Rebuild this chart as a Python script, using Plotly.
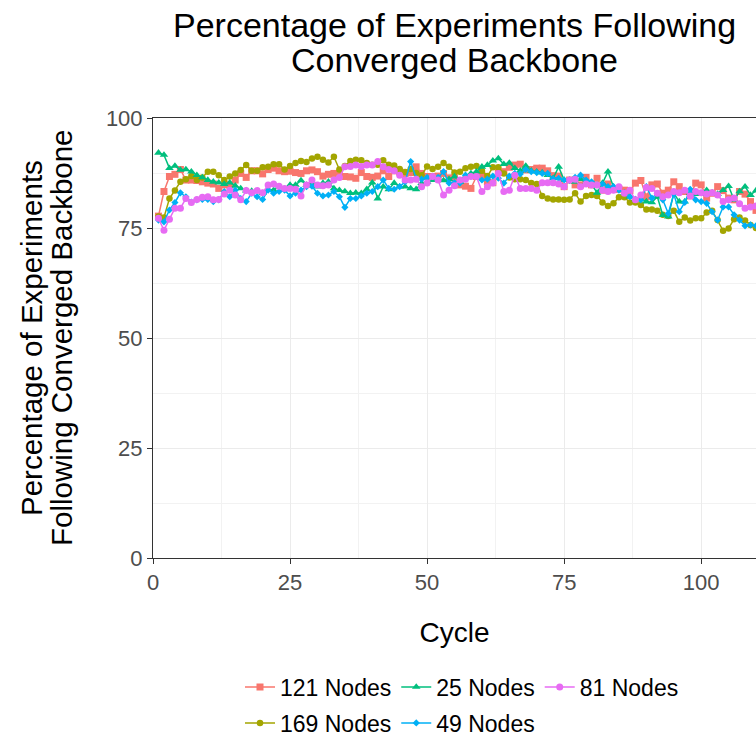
import plotly.graph_objects as go

# Cycle index shared by all series
cycles = list(range(1, 111))

# Percentage of experiments following the converged backbone, per network size
nodes_121 = [
    77.7, 83.3, 86.7, 87.2, 88.3, 85.9, 85.9, 85.8, 85.5, 85.2,
    85.0, 84.0, 84.8, 84.8, 85.9, 87.4, 86.5, 88.0, 88.0, 87.3,
    88.3, 88.6, 88.0, 87.8, 87.9, 87.6, 87.4, 88.0, 88.2, 87.8,
    86.8, 87.2, 87.4, 87.0, 86.7, 86.6, 86.3, 87.6, 86.7, 86.5,
    86.8, 88.0, 86.7, 88.0, 87.8, 87.4, 87.6, 88.9, 87.4, 86.7,
    86.7, 86.8, 87.4, 86.4, 86.4, 84.8, 84.5, 84.0, 86.7, 87.0,
    85.5, 85.3, 87.6, 87.8, 88.8, 89.3, 89.5, 88.2, 88.3, 88.6,
    88.6, 88.0, 86.9, 86.8, 84.4, 85.9, 84.8, 84.8, 86.5, 84.8,
    86.3, 83.6, 85.0, 83.8, 83.8, 83.6, 83.5, 85.2, 85.8, 82.1,
    84.8, 85.0, 82.9, 83.6, 85.5, 84.4, 83.3, 82.3, 85.2, 84.8,
    81.8, 82.9, 84.4, 83.5, 81.8, 81.4, 83.3, 82.7, 81.0, 79.0,
]
nodes_25 = [
    92.1, 91.6, 88.6, 89.1, 88.2, 88.3, 87.8, 87.0, 86.5, 85.9,
    85.5, 85.3, 85.0, 85.3, 84.6, 84.0, 83.5, 83.4, 83.3, 82.9,
    83.8, 83.6, 84.4, 83.8, 84.8, 84.8, 85.8, 84.8, 85.2, 84.4,
    85.2, 85.5, 84.0, 83.6, 83.3, 82.9, 83.0, 82.9, 83.8, 85.3,
    81.7, 84.4, 83.8, 85.2, 84.4, 84.4, 84.0, 83.8, 85.2, 85.5,
    85.9, 86.1, 85.8, 86.1, 86.7, 85.5, 86.7, 87.4, 87.8, 88.9,
    89.3, 90.3, 90.8, 89.5, 89.8, 88.6, 88.0, 89.1, 88.0, 87.8,
    87.6, 87.0, 86.3, 88.9, 85.9, 85.9, 85.5, 86.1, 85.3, 85.0,
    83.0, 85.2, 87.8, 84.4, 83.8, 82.9, 82.1, 81.5, 81.5, 81.0,
    80.8, 82.1, 77.9, 77.6, 82.9, 81.0, 81.0, 82.9, 82.7, 82.7,
    83.6, 83.0, 82.7, 83.6, 84.5, 81.4, 83.3, 84.4, 82.5, 83.5,
]
nodes_81 = [
    77.2, 74.5, 77.0, 79.5, 79.5, 81.7, 80.8, 81.5, 82.0, 82.1,
    81.4, 81.5, 82.7, 83.6, 82.5, 81.4, 83.5, 83.0, 83.5, 83.0,
    84.8, 85.0, 84.5, 84.0, 84.0, 83.8, 82.3, 84.8, 85.9, 84.8,
    84.6, 84.8, 85.9, 86.5, 88.9, 89.0, 89.3, 89.0, 89.3, 89.3,
    90.1, 88.9, 88.3, 88.0, 87.0, 85.9, 85.9, 86.1, 84.4, 85.2,
    86.7, 85.9, 82.5, 83.6, 84.6, 85.9, 86.1, 86.7, 86.7, 83.3,
    84.4, 85.2, 87.4, 83.3, 83.6, 87.0, 84.0, 84.0, 84.0, 83.6,
    85.3, 85.3, 85.3, 85.0, 84.4, 85.9, 86.1, 84.4, 85.0, 84.8,
    84.8, 83.6, 83.3, 83.6, 84.4, 82.9, 83.6, 81.4, 82.5, 84.2,
    84.0, 82.9, 82.1, 82.5, 83.3, 83.0, 83.6, 82.3, 83.3, 83.0,
    82.7, 83.0, 82.5, 81.0, 81.4, 81.8, 80.5, 79.5, 79.8, 80.0,
]
nodes_169 = [
    77.6, 77.4, 81.7, 83.5, 85.5, 86.1, 86.8, 85.9, 86.5, 87.8,
    87.8, 87.0, 85.9, 86.7, 87.4, 88.2, 89.3, 88.0, 88.0, 88.8,
    88.9, 89.5, 89.5, 88.3, 89.1, 89.8, 90.2, 90.0, 90.8, 91.2,
    90.5, 89.9, 91.2, 88.3, 89.1, 90.2, 90.5, 90.4, 89.8, 89.4,
    89.4, 90.4, 89.4, 89.2, 88.4, 87.7, 88.4, 87.5, 87.0, 89.0,
    88.4, 88.9, 89.8, 88.9, 87.6, 87.8, 88.6, 88.9, 89.1, 88.0,
    86.8, 88.8, 88.8, 87.4, 86.5, 86.1, 86.1, 85.9, 85.2, 85.0,
    82.3, 81.7, 81.5, 81.5, 81.4, 81.5, 82.9, 81.0, 82.3, 82.5,
    82.3, 80.8, 80.0, 80.6, 82.0, 82.0, 80.8, 80.8, 80.2, 79.2,
    79.2, 78.9, 78.0, 77.7, 78.9, 76.4, 77.4, 76.7, 77.2, 77.2,
    78.5, 78.9, 76.8, 74.4, 74.9, 77.0, 77.4, 76.7, 75.7, 75.0,
]
nodes_49 = [
    76.8, 76.4, 79.1, 80.8, 83.0, 82.1, 80.9, 81.4, 81.5, 81.5,
    81.0, 81.4, 83.3, 82.1, 83.6, 81.7, 81.0, 82.9, 82.1, 81.5,
    83.6, 82.9, 83.3, 83.6, 82.3, 82.9, 83.6, 84.4, 84.5, 82.9,
    82.3, 82.5, 83.3, 82.1, 79.7, 81.7, 81.7, 82.3, 82.9, 83.3,
    84.4, 85.9, 84.0, 83.8, 84.4, 85.5, 90.1, 86.3, 86.1, 86.5,
    86.7, 86.5, 87.8, 85.2, 85.3, 85.2, 87.0, 86.8, 86.7, 85.9,
    86.1, 86.8, 86.3, 85.2, 86.8, 87.4, 87.3, 88.3, 87.8, 87.6,
    87.4, 87.4, 86.2, 86.3, 85.9, 85.8, 86.5, 87.0, 85.9, 85.5,
    84.8, 85.0, 84.4, 84.4, 83.6, 83.0, 82.1, 81.5, 81.4, 84.4,
    81.8, 82.9, 81.4, 78.3, 82.7, 78.7, 80.8, 83.8, 81.4, 81.0,
    80.6, 78.7, 76.8, 79.8, 79.8, 78.0, 76.8, 75.5, 75.7, 75.5,
]

x_ticks = [0, 25, 50, 75, 100]
y_ticks = [0, 25, 50, 75, 100]

FONT = "Liberation Sans, Arial, sans-serif"

# name, values, colour, marker symbol, marker size, legend row
series = [
    ("121 Nodes", nodes_121, "#F8766D", "square", 7, "legend"),
    ("169 Nodes", nodes_169, "#A3A500", "circle", 6.5, "legend2"),
    ("25 Nodes", nodes_25, "#00BF7D", "triangle-up", 7.5, "legend"),
    ("49 Nodes", nodes_49, "#00B0F6", "diamond", 5.5, "legend2"),
    ("81 Nodes", nodes_81, "#E76BF3", "circle", 7, "legend"),
]

fig = go.Figure()
for name, vals, color, symbol, size, leg in series:
    fig.add_trace(go.Scatter(
        x=cycles[:len(vals)], y=vals, name=name, mode="lines+markers",
        line=dict(color=color, width=1.5),
        marker=dict(color=color, symbol=symbol, size=size, line=dict(width=0)),
        legend=leg,
    ))

# plot area in pixels: x 153..756, y 118..558
L, R, T, B = 153, 756, 118, 558
W, H = 756, 739
pw, ph = R - L, B - T

def px_x(px):
    return (px - L) / pw

def px_y(py):
    return (B - py) / ph

axis_common = dict(
    showline=True, linecolor="#333333", linewidth=1, mirror=True,
    ticks="outside", ticklen=5, tickwidth=1, tickcolor="#333333",
    tickfont=dict(family=FONT, size=22, color="#4D4D4D"),
    showgrid=True, gridcolor="#EBEBEB", gridwidth=1.2,
    zeroline=False, automargin=False,
)

legend_common = dict(
    orientation="h", xanchor="left", yanchor="middle",
    xref="container", yref="container",
    font=dict(family=FONT, size=23, color="#000000"),
    bgcolor="rgba(0,0,0,0)", itemwidth=30, tracegroupgap=0,
)

fig.update_layout(
    width=W, height=H,
    margin=dict(l=L, r=W - R, t=T, b=H - B, pad=0, autoexpand=False),
    paper_bgcolor="white", plot_bgcolor="white",
    font=dict(family=FONT, color="#000000"),
    showlegend=True,
    xaxis=dict(
        range=[0, 110], tickvals=x_ticks, ticktext=[str(v) for v in x_ticks],
        minor=dict(tickvals=[12.5, 37.5, 62.5, 87.5], showgrid=True,
                   gridcolor="#F2F2F2", gridwidth=1, ticks=""),
        title=dict(text="Cycle", font=dict(family=FONT, size=28, color="#000000"),
                   standoff=27),
        **axis_common,
    ),
    yaxis=dict(
        range=[0, 100], tickvals=y_ticks, ticktext=[str(v) for v in y_ticks],
        minor=dict(tickvals=[12.5, 37.5, 62.5, 87.5], showgrid=True,
                   gridcolor="#F2F2F2", gridwidth=1, ticks=""),
        **axis_common,
    ),
    legend=dict(x=240 / W, y=1 - 687 / H, **legend_common),
    legend2=dict(x=240 / W, y=1 - 723 / H, **legend_common),
)

# Chart title (two lines) and y-axis title (two rotated lines)
title_lines = ["Percentage of Experiments Following", "Converged Backbone"]
for py, text in zip([25, 60], title_lines):
    fig.add_annotation(text=text, xref="paper", yref="paper", x=0.5, y=px_y(py),
                       xanchor="center", yanchor="middle", showarrow=False,
                       font=dict(family=FONT, size=34, color="#000000"))

ytitle_lines = ["Percentage of Experiments", "Following Converged Backbone"]
for pxx, text in zip([31, 61], ytitle_lines):
    fig.add_annotation(text=text, xref="paper", yref="paper", x=px_x(pxx), y=0.5,
                       xanchor="center", yanchor="middle", textangle=-90,
                       showarrow=False,
                       font=dict(family=FONT, size=29.5, color="#000000"))

fig.write_html("out.html")
